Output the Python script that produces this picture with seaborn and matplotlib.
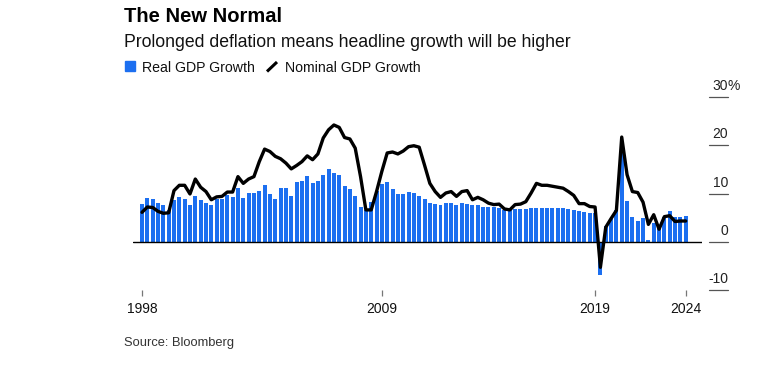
import matplotlib
matplotlib.use("Agg")
import matplotlib.pyplot as plt
from matplotlib.lines import Line2D
from matplotlib.patches import Rectangle
import seaborn as sns
import pandas as pd
import numpy as np

# ---------------- data ----------------
quarters = [str(p) for p in pd.period_range("1998Q3", "2024Q1", freq="Q")]

real_gdp = [
    7.8, 9.1, 8.9, 8.0, 7.7, 6.6,            # 1998Q3 - 1999Q4
    8.7, 9.2, 8.9, 7.6,                      # 2000
    9.5, 8.6, 8.1, 7.7,                      # 2001
    8.9, 8.9, 9.7, 9.2,                      # 2002
    11.1, 9.1, 10.1, 10.1,                   # 2003
    10.6, 11.7, 9.9, 8.8,                    # 2004
    11.2, 11.2, 9.5, 12.4,                   # 2005
    12.6, 13.7, 12.2, 12.6,                  # 2006
    13.8, 15.0, 14.3, 13.9,                  # 2007
    11.5, 11.0, 9.5, 7.1,                    # 2008
    6.5, 8.3, 10.6, 11.9,                    # 2009
    12.3, 10.9, 9.9, 9.9,                    # 2010
    10.3, 10.1, 9.5, 8.8,                    # 2011
    8.1, 7.8, 7.6, 8.1,                      # 2012
    8.0, 7.7, 8.0, 7.9,                      # 2013
    7.7, 7.7, 7.3, 7.3,                      # 2014
    7.2, 7.0, 6.6, 6.6,                      # 2015
    6.8, 6.8, 6.8, 7.0,                      # 2016
    7.0, 7.0, 6.9, 6.9,                      # 2017
    7.0, 7.0, 6.8, 6.6,                      # 2018
    6.3, 6.1, 6.0, 6.0,                      # 2019
    -6.8, 3.2, 4.7, 6.6,                     # 2020
    18.3, 8.4, 5.2, 4.4,                     # 2021
    4.9, 0.4, 3.9, 3.5,                      # 2022
    5.1, 6.3, 5.1, 5.2,                      # 2023
    5.4,                                     # 2024Q1
]

nominal_gdp = [
    6.1, 7.2, 7.1, 6.3, 5.9, 6.0,
    10.6, 11.7, 11.7, 9.9,
    13.0, 11.3, 10.4, 8.7,
    9.3, 9.4, 10.3, 10.3,
    13.5, 12.1, 13.0, 13.5,
    16.6, 19.2, 18.7, 17.7,
    17.2, 16.3, 15.1, 15.8,
    16.6, 17.8, 17.0, 18.2,
    21.5, 23.2, 24.2, 23.7,
    21.6, 21.3, 19.4, 13.5,
    6.6, 6.6, 10.4, 14.6,
    18.4, 18.6, 18.2, 18.8,
    19.7, 19.9, 19.6, 15.9,
    12.1, 10.4, 9.2, 10.1,
    10.4, 9.4, 10.4, 10.6,
    8.7, 9.2, 8.7, 8.0,
    7.7, 7.8, 6.8, 6.6,
    7.7, 7.8, 8.3, 10.1,
    12.1, 11.7, 11.7, 11.5,
    11.3, 11.1, 10.4, 9.6,
    7.9, 7.9, 7.3, 7.2,
    -5.3, 3.0, 4.8, 6.5,
    21.7, 13.9, 10.4, 10.2,
    8.2, 3.6, 5.6, 2.6,
    5.2, 5.4, 4.2, 4.3,
    4.3,
]

tick_quarters = ["1998Q3", "2009Q4", "2019Q4", "2024Q1"]
tick_labels = ["1998", "2009", "2019", "2024"]
y_ticks = [30, 20, 10, 0, -10]
y_tick_labels = ["30", "20", "10", "0", "-10"]

title = "The New Normal"
subtitle = "Prolonged deflation means headline growth will be higher"
legend_labels = ["Real GDP Growth", "Nominal GDP Growth"]
source = "Source: Bloomberg"

BLUE = "#1c6ff0"

# ---------------- figure ----------------
sns.set_theme(style="white")
plt.rcParams["font.family"] = ["Liberation Sans", "DejaVu Sans"]

W, H = 768, 373
fig = plt.figure(figsize=(W / 100, H / 100), dpi=100)


def fx(px):
    return px / W


def fy(py):
    return 1 - py / H


ax_left, ax_right, ax_top, ax_bottom = 133, 702, 97, 290
ax = fig.add_axes([fx(ax_left), fy(ax_bottom), (ax_right - ax_left) / W,
                   (ax_bottom - ax_top) / H])

df = pd.DataFrame({"quarter": quarters, "real": real_gdp,
                   "nominal": nominal_gdp})
df["pos"] = np.arange(len(df))

sns.barplot(data=df, x="pos", y="real", color=BLUE, saturation=1,
            width=0.75, linewidth=0, ax=ax, zorder=2)
ax.axhline(0, color="black", lw=1.0, zorder=3)
sns.lineplot(data=df, x="pos", y="nominal", color="black", lw=2.4,
             ax=ax, zorder=4)

ax.set_xlim(-1.69, 105.06)
ax.set_ylim(-10, 30)
for s in ax.spines.values():
    s.set_visible(False)
ax.set_xlabel("")
ax.set_ylabel("")
ax.set_facecolor("none")

# x ticks
tick_pos = [quarters.index(q) for q in tick_quarters]
ax.set_xticks(tick_pos)
ax.set_xticklabels(tick_labels, fontsize=10, color="#111")
ax.tick_params(axis="x", bottom=True, length=4.5, width=0.9,
               color="#777", pad=4, direction="out")

# y ticks on the right: short lines with labels above
ax.set_yticks([])
ytr = ax.get_yaxis_transform()
x0 = (709 - ax_left) / (ax_right - ax_left)
x1 = (728 - ax_left) / (ax_right - ax_left)
for v, lab in zip(y_ticks, y_tick_labels):
    ax.plot([x0, x1], [v, v], transform=ytr, color="#555", lw=0.9,
            clip_on=False)
    ax.annotate(lab, xy=(x1, v), xycoords=ytr, xytext=(0, 5),
                textcoords="offset points", ha="right", va="baseline",
                fontsize=10, color="#222")
    if v == max(y_ticks):
        ax.annotate("%", xy=(x1, v), xycoords=ytr, xytext=(0, 5),
                    textcoords="offset points", ha="left", va="baseline",
                    fontsize=10, color="#222")

# titles
fig.text(fx(124), fy(22), title, fontsize=14.5, fontweight="bold",
         va="baseline", ha="left", color="#000")
fig.text(fx(124), fy(47), subtitle, fontsize=12.7, va="baseline",
         ha="left", color="#111")

# legend
fig.patches.append(Rectangle((fx(125), fy(71)), 10 / W, 10 / H,
                             transform=fig.transFigure, color=BLUE))
fig.text(fx(141.5), fy(72), legend_labels[0], fontsize=10.2, va="baseline",
         ha="left", color="#111")
fig.lines.append(Line2D([fx(267), fx(277)], [fy(71.5), fy(62)],
                        transform=fig.transFigure, color="black", lw=2.2,
                        solid_capstyle="butt"))
fig.text(fx(285), fy(72), legend_labels[1], fontsize=10.2, va="baseline",
         ha="left", color="#111")

# source
fig.text(fx(124), fy(346), source, fontsize=9.3, va="baseline",
         ha="left", color="#333")

fig.savefig("out.png", dpi=100)
